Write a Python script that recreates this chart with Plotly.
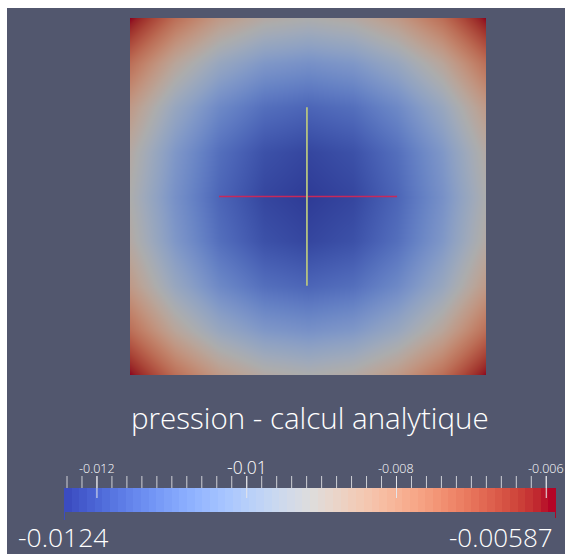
import numpy as np
import plotly.graph_objects as go

# ---------------- data ----------------
grid_x = [0.0, 0.125, 0.25, 0.375, 0.5, 0.625, 0.75, 0.875, 1.0]
grid_y = [0.0, 0.125, 0.25, 0.375, 0.5, 0.625, 0.75, 0.875, 1.0]
pression = [
    [-0.00587, -0.00730, -0.00832, -0.00893, -0.00914, -0.00893, -0.00832, -0.00730, -0.00587],
    [-0.00730, -0.00873, -0.00975, -0.01036, -0.01056, -0.01036, -0.00975, -0.00873, -0.00730],
    [-0.00832, -0.00975, -0.01077, -0.01138, -0.01158, -0.01138, -0.01077, -0.00975, -0.00832],
    [-0.00893, -0.01036, -0.01138, -0.01199, -0.01220, -0.01199, -0.01138, -0.01036, -0.00893],
    [-0.00914, -0.01056, -0.01158, -0.01220, -0.01240, -0.01220, -0.01158, -0.01056, -0.00914],
    [-0.00893, -0.01036, -0.01138, -0.01199, -0.01220, -0.01199, -0.01138, -0.01036, -0.00893],
    [-0.00832, -0.00975, -0.01077, -0.01138, -0.01158, -0.01138, -0.01077, -0.00975, -0.00832],
    [-0.00730, -0.00873, -0.00975, -0.01036, -0.01056, -0.01036, -0.00975, -0.00873, -0.00730],
    [-0.00587, -0.00730, -0.00832, -0.00893, -0.00914, -0.00893, -0.00832, -0.00730, -0.00587],
]
vmin = -0.0124
vmax = -0.00587
line_h_x = [0.25, 0.75]
line_h_y = [0.5, 0.5]
line_v_x = [0.497, 0.497]
line_v_y = [0.25, 0.75]
major_ticks = [-0.012, -0.01, -0.008, -0.006]
major_labels = ["-0.012", "-0.01", "-0.008", "-0.006"]
minor_step = 0.0002
title_text = "pression - calcul analytique"
min_label = "-0.0124"
max_label = "-0.00587"

# ---------------- style ----------------
W, H = 565, 554
OX, OY = 0, 0
BG = "#52576e"
cool_warm = [
    (0.0, (59, 76, 192)), (0.03125, (68, 90, 204)), (0.0625, (77, 104, 215)),
    (0.09375, (87, 117, 225)), (0.125, (98, 130, 234)), (0.15625, (108, 142, 241)),
    (0.1875, (119, 154, 247)), (0.21875, (130, 165, 251)), (0.25, (141, 176, 254)),
    (0.28125, (152, 185, 255)), (0.3125, (163, 194, 255)), (0.34375, (174, 201, 253)),
    (0.375, (184, 208, 249)), (0.40625, (194, 213, 244)), (0.4375, (204, 217, 238)),
    (0.46875, (213, 219, 230)), (0.5, (221, 221, 221)), (0.53125, (229, 216, 209)),
    (0.5625, (236, 211, 197)), (0.59375, (241, 204, 185)), (0.625, (245, 196, 173)),
    (0.65625, (247, 187, 160)), (0.6875, (247, 177, 148)), (0.71875, (247, 166, 135)),
    (0.75, (244, 154, 123)), (0.78125, (241, 141, 111)), (0.8125, (236, 127, 99)),
    (0.84375, (229, 112, 88)), (0.875, (222, 96, 77)), (0.90625, (213, 80, 66)),
    (0.9375, (203, 62, 56)), (0.96875, (192, 40, 47)), (1.0, (180, 4, 38)),
]
def scale(f):
    return [[p, "rgb(%d,%d,%d)" % tuple(int(round(c * f)) for c in rgb)] for p, rgb in cool_warm]

cs_bar = scale(1.0)
cs_field = scale(0.78)

def px_x(p):
    return (p - OX) / W
def px_y(p):
    return 1 - (p - OY) / H

fig = go.Figure()

fig.add_trace(go.Heatmap(
    x=grid_x, y=grid_y, z=pression, zmin=vmin, zmax=vmax,
    colorscale=cs_field, zsmooth="best", showscale=False, hoverinfo="skip",
    xaxis="x", yaxis="y"))

fig.add_trace(go.Scatter(x=line_h_x, y=line_h_y, mode="lines",
                         line=dict(color="#c8285a", width=1.6), hoverinfo="skip",
                         showlegend=False, xaxis="x", yaxis="y"))
fig.add_trace(go.Scatter(x=line_v_x, y=line_v_y, mode="lines",
                         line=dict(color="#b4c282", width=1.8), hoverinfo="skip",
                         showlegend=False, xaxis="x", yaxis="y"))

# colour bar strip (discrete bands)
n_bands = 64
bar_lo = -0.01244
edges = np.linspace(bar_lo, vmax, n_bands + 1)
centers = (edges[:-1] + edges[1:]) / 2
band_vals = np.linspace(vmin, vmax, n_bands)
fig.add_trace(go.Heatmap(
    x=centers, y=[0], z=[band_vals], zmin=vmin, zmax=vmax,
    colorscale=cs_bar, showscale=False, hoverinfo="skip",
    xaxis="x2", yaxis="y2"))

shapes = []
# white borders of the original capture (top and left)
shapes.append(dict(type="rect", xref="paper", yref="paper", x0=0, x1=1,
                   y0=px_y(8), y1=1, fillcolor="white", line=dict(width=0)))
shapes.append(dict(type="rect", xref="paper", yref="paper", x0=0, x1=px_x(7),
                   y0=0, y1=1, fillcolor="white", line=dict(width=0)))
minor_vals = np.arange(vmin, -0.006 + 1e-9, minor_step)
for v in minor_vals:
    shapes.append(dict(type="line", xref="x2", yref="paper", x0=v, x1=v,
                       y0=px_y(476), y1=px_y(488), line=dict(color="#cfd0d6", width=1)))
for v in major_ticks:
    shapes.append(dict(type="line", xref="x2", yref="paper", x0=v, x1=v,
                       y0=px_y(476), y1=px_y(498), line=dict(color="#e6e6ea", width=1)))
shapes.append(dict(type="line", xref="paper", yref="paper", x0=px_x(64.5), x1=px_x(64.5),
                   y0=px_y(512), y1=px_y(520), line=dict(color="rgb(59,76,192)", width=1)))
shapes.append(dict(type="line", xref="paper", yref="paper", x0=px_x(555.5), x1=px_x(555.5),
                   y0=px_y(512), y1=px_y(518), line=dict(color="rgb(180,4,38)", width=1)))

annotations = []
FONT = "Open Sans"
for v, t in zip(major_ticks, major_labels):
    big = (t == "-0.01")
    annotations.append(dict(x=v, xref="x2", y=px_y(467 if big else 468), yref="paper",
                            text=t, showarrow=False, xanchor="center", yanchor="middle",
                            font=dict(family=FONT, size=17.5 if big else 12.5, color="white",
                                      weight=300)))
annotations.append(dict(x=px_x(310), y=px_y(417), xref="paper", yref="paper",
                        text=title_text, showarrow=False, xanchor="center", yanchor="middle",
                        font=dict(family=FONT, size=29.5, color="white", weight=300)))
annotations.append(dict(x=px_x(16), y=px_y(537), xref="paper", yref="paper",
                        text=min_label, showarrow=False, xanchor="left", yanchor="middle",
                        font=dict(family=FONT, size=26.5, color="white", weight=300)))
annotations.append(dict(x=px_x(555), y=px_y(537), xref="paper", yref="paper",
                        text=max_label, showarrow=False, xanchor="right", yanchor="middle",
                        font=dict(family=FONT, size=26, color="white", weight=300)))

ax_common = dict(showgrid=False, zeroline=False, showticklabels=False, ticks="",
                 showline=False, fixedrange=True)
fig.update_layout(
    width=W, height=H, margin=dict(l=0, r=0, t=0, b=0),
    paper_bgcolor=BG, plot_bgcolor="rgba(0,0,0,0)",
    showlegend=False,
    xaxis=dict(domain=[px_x(130), px_x(486)], range=[0, 1], **ax_common),
    yaxis=dict(domain=[px_y(375), px_y(18)], range=[0, 1], **ax_common),
    xaxis2=dict(domain=[px_x(64), px_x(556)], range=[bar_lo, vmax], anchor="y2", **ax_common),
    yaxis2=dict(domain=[px_y(512), px_y(488)], range=[-0.5, 0.5], anchor="x2", **ax_common),
    shapes=shapes, annotations=annotations,
)

fig.write_html("out.html", config={"displayModeBar": False},
               post_script="document.body.style.margin='0';"
                           "document.documentElement.style.overflow='hidden';"
                           "document.body.style.overflow='hidden';")
